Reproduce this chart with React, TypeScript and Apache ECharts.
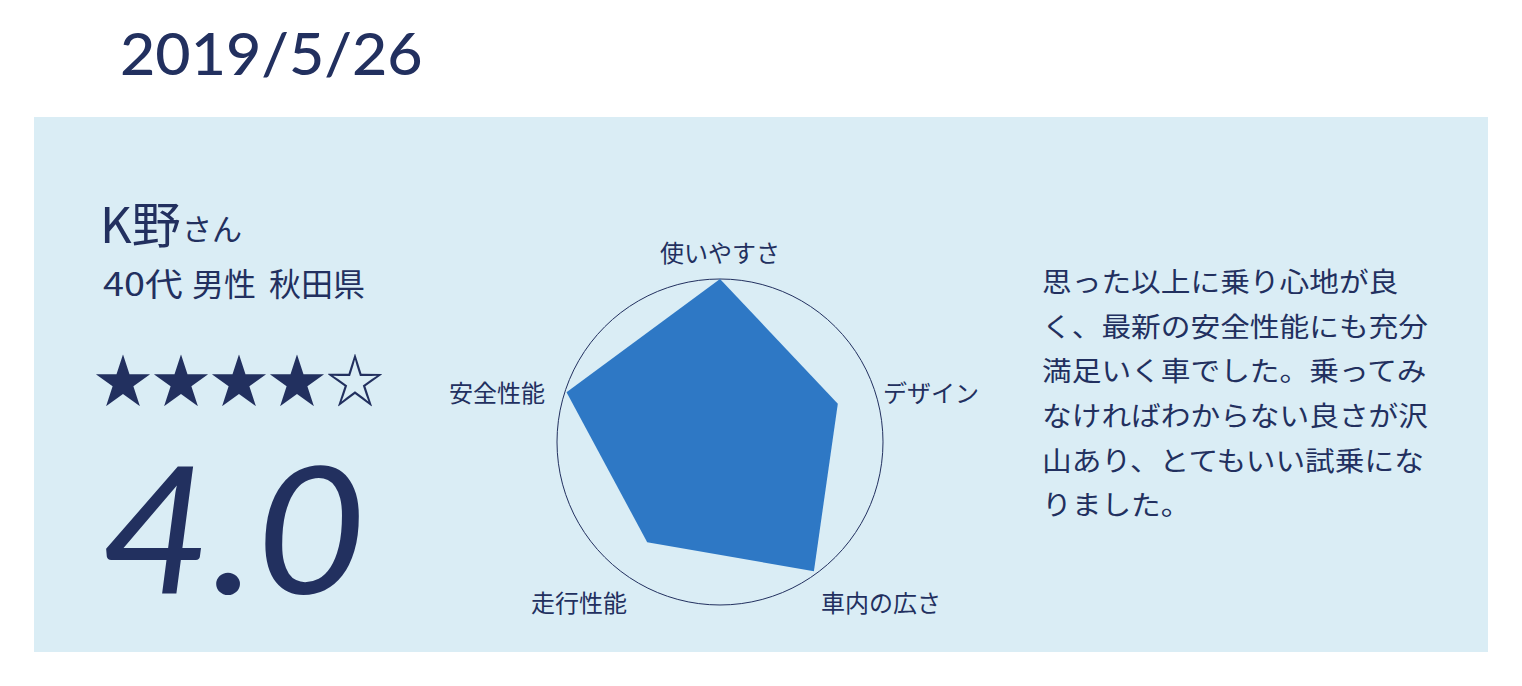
import React, { useEffect, useRef } from 'react';
import * as echarts from 'echarts';

// ---- data ----
const reviewDate = '2019/5/26';
const reviewerName = 'K野';
const honorific = 'さん';
const reviewerProfile = ['40代', '男性', '秋田県'];
const ratingScore = 4.0;
const starTotal = 5;
// ECharts lays radar indicators out counter-clockwise from the top
const indicatorNames = ['使いやすさ', '安全性能', '走行性能', '車内の広さ', 'デザイン'];
const indicatorValues = [5, 4.95, 3.8, 4.9, 3.8];
const indicatorMax = 5;
const commentLines = [
  '思った以上に乗り心地が良',
  'く、最新の安全性能にも充分',
  '満足いく車でした。乗ってみ',
  'なければわからない良さが沢',
  '山あり、とてもいい試乗にな',
  'りました。',
];

// ---- styles / layout ----
const NAVY = '#22305f';
const PANEL = '#daedf5';
const AREA = '#2e78c5';
const JP = '"Noto Sans CJK JP", "Noto Sans", sans-serif';
const RADAR_CENTER = [720, 442];
const RADAR_RADIUS = 163;
const profileX = [103, 192, 269];
const profileScaleX = [1.18, 1, 1];
const labelLayout: Record<string, { x: number; y: number; align: string }> = {
  '使いやすさ': { x: 720, y: 251, align: 'center' },
  'デザイン': { x: 883, y: 391, align: 'left' },
  '安全性能': { x: 545, y: 391, align: 'right' },
  '走行性能': { x: 627, y: 601, align: 'right' },
  '車内の広さ': { x: 821, y: 601, align: 'left' },
};

export default function App() {
  const ref = useRef<HTMLDivElement>(null);
  useEffect(() => {
    if (!ref.current) return;
    const chart = echarts.init(ref.current, null, { renderer: 'svg' });
    const filled = Math.round(ratingScore);
    const stars = '★'.repeat(filled) + '☆'.repeat(starTotal - filled);

    const labelEls = indicatorNames.map((n) => ({
      type: 'text',
      z: 10,
      x: labelLayout[n].x,
      y: labelLayout[n].y,
      style: {
        text: n,
        fill: NAVY,
        font: `24px ${JP}`,
        textAlign: labelLayout[n].align,
        textVerticalAlign: 'middle',
      },
    }));

    const profileEls = reviewerProfile.map((p, i) => ({
      type: 'text',
      z: 10,
      x: profileX[i],
      y: 282,
      scaleX: profileScaleX[i],
      style: {
        text: p,
        fill: NAVY,
        font: `32px ${JP}`,
        textVerticalAlign: 'middle',
      },
    }));

    chart.setOption({
      animation: false,
      backgroundColor: '#ffffff',
      radar: {
        center: RADAR_CENTER,
        radius: RADAR_RADIUS,
        shape: 'circle',
        splitNumber: 1,
        startAngle: 90,
        indicator: indicatorNames.map((n) => ({ name: n, max: indicatorMax, min: 0 })),
        axisName: { show: false },
        axisLine: { show: false },
        axisTick: { show: false },
        axisLabel: { show: false },
        splitArea: { show: false },
        splitLine: { lineStyle: { color: NAVY, width: 1 } },
      },
      series: [
        {
          type: 'radar',
          symbol: 'none',
          silent: true,
          lineStyle: { width: 0, color: AREA },
          areaStyle: { color: AREA, opacity: 1 },
          data: [{ value: indicatorValues, name: 'score' }],
        },
      ],
      graphic: {
        elements: [
          {
            type: 'rect',
            z: -1,
            shape: { x: 34, y: 117, width: 1454, height: 535 },
            style: { fill: PANEL },
          },
          {
            type: 'text',
            z: 10,
            x: 120,
            y: 53,
            scaleX: 1.05,
            style: {
              text: reviewDate,
              fill: NAVY,
              font: `500 58px Lato, sans-serif`,
              textVerticalAlign: 'middle',
            },
          },
          {
            type: 'text',
            z: 10,
            x: 100,
            y: 221,
            style: {
              text: reviewerName,
              fill: NAVY,
              font: `49px ${JP}`,
              textVerticalAlign: 'middle',
            },
          },
          {
            type: 'text',
            z: 10,
            x: 182,
            y: 227,
            style: {
              text: honorific,
              fill: NAVY,
              font: `30px ${JP}`,
              textVerticalAlign: 'middle',
            },
          },
          ...profileEls,
          {
            type: 'text',
            z: 10,
            x: 94,
            y: 377,
            style: {
              text: stars,
              fill: NAVY,
              font: `58px ${JP}`,
              textVerticalAlign: 'middle',
            },
          },
          {
            type: 'text',
            z: 10,
            x: 101,
            y: 526,
            scaleX: 1.08,
            style: {
              text: ratingScore.toFixed(1),
              fill: NAVY,
              font: `italic 176px Lato, sans-serif`,
              textVerticalAlign: 'middle',
            },
          },
          {
            type: 'text',
            z: 10,
            x: 1042,
            y: 258,
            scaleX: 1.1,
            style: {
              text: commentLines.join('\n'),
              fill: NAVY,
              font: `27px ${JP}`,
              lineHeight: 44.6,
              textVerticalAlign: 'top',
            },
          },
          ...labelEls,
        ],
      },
    });
    return () => chart.dispose();
  }, []);
  return (
    <div
      ref={ref}
      style={{ position: 'fixed', left: 0, top: 0, width: 1522, height: 686, background: '#fff' }}
    />
  );
}
